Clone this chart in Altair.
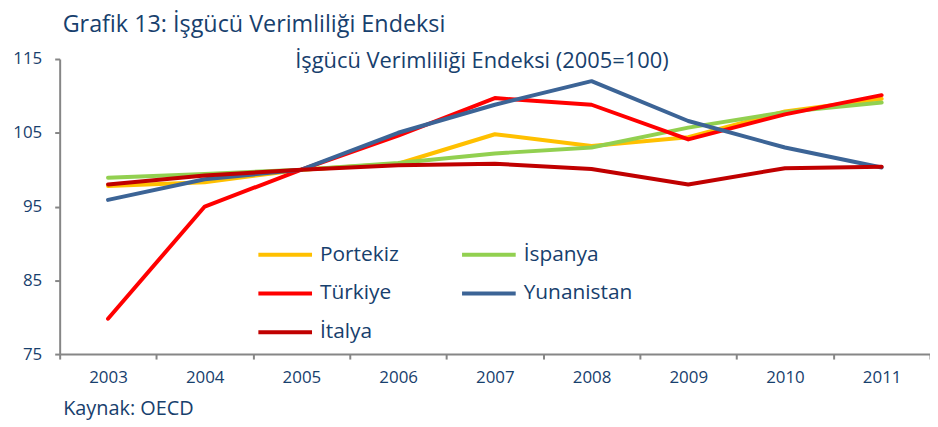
import altair as alt
import pandas as pd

years = ["2003", "2004", "2005", "2006", "2007", "2008", "2009", "2010", "2011"]
series_names = ["Portekiz", "İspanya", "Türkiye", "Yunanistan", "İtalya"]
portekiz = [97.8, 98.3, 100.0, 100.8, 104.8, 103.2, 104.4, 107.9, 109.6]
ispanya = [98.9, 99.4, 100.0, 100.9, 102.2, 103.0, 105.7, 107.8, 109.1]
turkiye = [79.8, 95.0, 100.0, 104.6, 109.7, 108.8, 104.1, 107.5, 110.1]
yunanistan = [95.9, 98.7, 100.0, 105.0, 108.8, 112.0, 106.6, 103.0, 100.3]
italya = [98.0, 99.2, 100.0, 100.6, 100.8, 100.1, 98.0, 100.2, 100.4]
colors = ["#FFC000", "#92D050", "#FF0000", "#3C6496", "#C00000"]
y_ticks = [75, 85, 95, 105, 115]

rows = []
for name, vals in zip(series_names, [portekiz, ispanya, turkiye, yunanistan, italya]):
    for yr, v in zip(years, vals):
        rows.append({"Yıl": yr, "Değer": v, "Ülke": name})
df = pd.DataFrame(rows)

FONT = "Open Sans"
NAVY = "#17406D"
GRAY = "#868686"

lines = alt.Chart(df).mark_line(strokeWidth=4, strokeCap="round", strokeJoin="round").encode(
    x=alt.X("Yıl:O", sort=years,
            scale=alt.Scale(paddingInner=0, paddingOuter=0),
            axis=alt.Axis(title="Kaynak: OECD", titleFont=FONT, titleFontSize=20,
                          titleFontWeight="normal", titleColor=NAVY,
                          titleAlign="left", titleAnchor="start", titleX=3, titleY=61,
                          titleBaseline="alphabetic",
                          labelAngle=0, labelFont=FONT, labelFontSize=17, labelColor=NAVY,
                          labelPadding=11, tickBand="extent", tickSize=5,
                          tickColor=GRAY, tickWidth=2, domainColor=GRAY, domainWidth=2,
                          grid=False)),
    y=alt.Y("Değer:Q",
            scale=alt.Scale(domain=[75, 115], nice=False, zero=False),
            axis=alt.Axis(values=y_ticks, title=None, labelFont=FONT, labelFontSize=17,
                          labelColor=NAVY, labelPadding=13, tickSize=5, tickColor=GRAY,
                          tickWidth=2, domainColor=GRAY, domainWidth=2, grid=False)),
    color=alt.Color("Ülke:N", sort=series_names,
                    scale=alt.Scale(domain=series_names, range=colors),
                    legend=alt.Legend(title=None, orient="none", legendX=198, legendY=168,
                                      direction="horizontal",
                                      columns=2, symbolType="stroke", symbolSize=2916,
                                      symbolStrokeWidth=4, labelFont=FONT, labelFontSize=21,
                                      labelColor=NAVY, labelOffset=6, rowPadding=-9,
                                      columnPadding=55, padding=0)),
    order=alt.Order("ord:Q"),
).transform_calculate(
    ord="indexof(" + str(series_names) + ", datum['Ülke'])"
)

heading = alt.Chart(pd.DataFrame({"t": ["İşgücü Verimliliği Endeksi (2005=100)"]})).mark_text(
    font=FONT, fontSize=22, color=NAVY, align="center", baseline="middle"
).encode(text="t:N", x=alt.value(425), y=alt.value(2))

chart = alt.layer(lines, heading).properties(
    width=876, height=297,
    autosize=alt.AutoSizeParams(type="none"),
    padding={"left": 52, "top": 50, "right": 0, "bottom": 65},
    title=alt.TitleParams(text="Grafik 13: İşgücü Verimliliği Endeksi", anchor="start",
                          frame="group", font=FONT, fontSize=23.5, fontWeight="normal",
                          color=NAVY, dx=3, offset=14),
).configure_view(stroke=None)

chart.save("out.html", embed_options={"renderer": "svg", "actions": False})
